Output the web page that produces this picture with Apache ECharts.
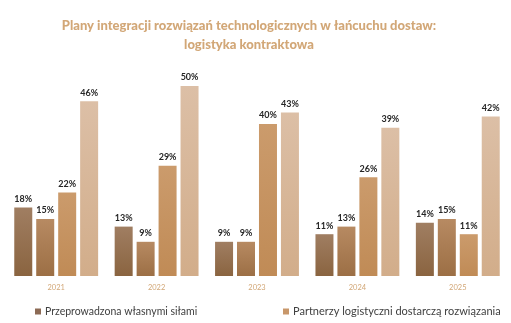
<!DOCTYPE html>
<html>
<head>
<meta charset="utf-8">
<script src="https://cdn.jsdelivr.net/npm/echarts@6/dist/echarts.min.js"></script>
<style>
  html, body { margin: 0; padding: 0; background: #ffffff; }
  #chart { width: 511px; height: 323px; }
</style>
</head>
<body>
<div id="chart"></div>
<script>
// Chart data
const years = ['2021', '2022', '2023', '2024', '2025'];
const inHouseA = [18, 13, 9, 11, 14];
const inHouseB = [15, 9, 9, 13, 15];
const partnersA = [22, 29, 40, 26, 11];
const partnersB = [46, 50, 43, 39, 42];

const nameInHouse = 'Przeprowadzona własnymi siłami';
const namePartners = 'Partnerzy logistyczni dostarczą rozwiązania';

const FONT = 'Lato';

function grad(top, bottom) {
  return new echarts.graphic.LinearGradient(0, 0, 0, 1, [
    { offset: 0, color: top },
    { offset: 1, color: bottom }
  ]);
}

const labelStyle = {
  show: true,
  position: 'top',
  distance: 4,
  formatter: '{c}%',
  color: '#262626',
  fontFamily: FONT,
  fontWeight: 'bold',
  fontSize: 9
};

function barSeries(name, data, top, bottom) {
  return {
    name: name,
    type: 'bar',
    data: data,
    barWidth: 18,
    barGap: '22%',
    itemStyle: { color: grad(top, bottom) },
    label: labelStyle,
    emphasis: { disabled: true }
  };
}

function legendFor(name, color, left, size) {
  return {
    data: [{ name: name, itemStyle: { color: color } }],
    orient: 'horizontal',
    bottom: 1,
    left: left,
    itemWidth: 6,
    itemHeight: 6,
    itemGap: 0,
    icon: 'rect',
    selectedMode: false,
    textStyle: { color: '#404040', fontFamily: FONT, fontSize: size, padding: [0, 0, 0, -1] }
  };
}

const chart = echarts.init(document.getElementById('chart'), null, { renderer: 'canvas' });
chart.setOption({
  animation: false,
  backgroundColor: '#ffffff',
  title: {
    text: 'Plany integracji rozwiązań technologicznych w łańcuchu dostaw:\nlogistyka kontraktowa',
    left: 244,
    top: 11,
    textAlign: 'center',
    textStyle: {
      color: '#d2a777',
      fontFamily: FONT,
      fontWeight: 900,
      fontSize: 13,
      lineHeight: 19
    }
  },
  legend: [
    legendFor(nameInHouse, '#8c6a55', 30, 10.5),
    legendFor(namePartners, '#c8976a', 278, 11)
  ],
  grid: { left: 6, right: 3, top: 86, bottom: 47, containLabel: false },
  xAxis: {
    type: 'category',
    data: years,
    axisLine: { show: false },
    axisTick: { show: false },
    axisLabel: { color: '#d2a777', fontFamily: FONT, fontSize: 7.5, margin: 8 }
  },
  yAxis: {
    type: 'value',
    min: 0,
    max: 50,
    show: false,
    splitLine: { show: false }
  },
  series: [
    barSeries(nameInHouse, inHouseA, '#a07e62', '#8a6440'),
    barSeries(nameInHouse, inHouseB, '#b78a62', '#9c6f45'),
    barSeries(namePartners, partnersA, '#cb9b6c', '#c08b56'),
    barSeries(namePartners, partnersB, '#dcbfa6', '#d2ad8a')
  ]
});
</script>
</body>
</html>
